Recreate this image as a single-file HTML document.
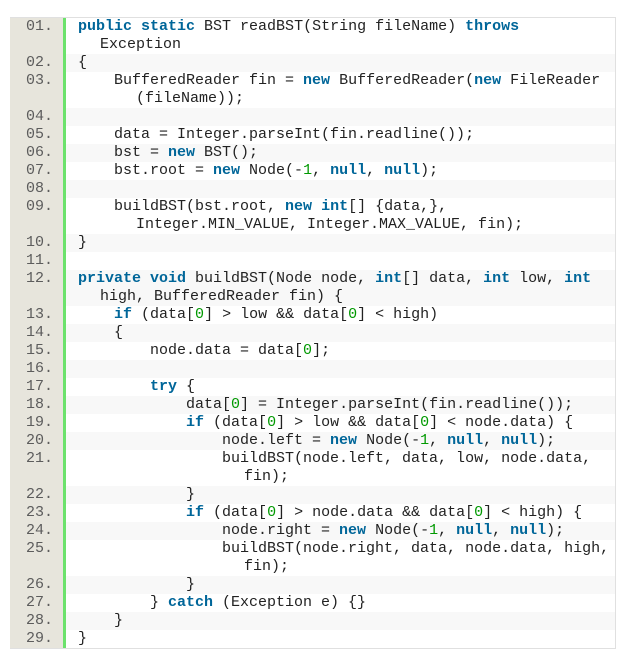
<!DOCTYPE html>
<html><head><meta charset="utf-8"><style>
body{margin:0;background:#fff;width:623px;height:656px;overflow:hidden}
#box{position:absolute;left:10px;top:17px;width:605px;border:1px solid #e0e0e0;border-left:none;background:#fff}
.r{position:relative;font:15px/18px "Liberation Mono",monospace;color:#222;white-space:pre}
.r.g{background:#f8f8f8}
.n{position:absolute;left:0;top:0;bottom:0;width:53px;background:#e7e5dc;color:#5c5c5c;text-align:right;padding-right:0}
.n span{position:absolute;right:10px;top:0}
.bar{position:absolute;left:53px;top:0;bottom:0;width:3px;background:#6ce26c}
.c{padding-left:68px}
.w{padding-left:90px}
.k{color:#006699;font-weight:bold}
.m{color:#009900}
</style></head><body><div id="box">
<div class="r"><div class="n"><span>01.</span></div><div class="bar"></div><div class="c"><span class="k">public</span> <span class="k">static</span> BST readBST(String fileName) <span class="k">throws</span></div><div class="w">Exception</div></div>
<div class="r g"><div class="n"><span>02.</span></div><div class="bar"></div><div class="c">{</div></div>
<div class="r"><div class="n"><span>03.</span></div><div class="bar"></div><div class="c">    BufferedReader fin = <span class="k">new</span> BufferedReader(<span class="k">new</span> FileReader</div><div class="w">    (fileName));</div></div>
<div class="r g"><div class="n"><span>04.</span></div><div class="bar"></div><div class="c"> </div></div>
<div class="r"><div class="n"><span>05.</span></div><div class="bar"></div><div class="c">    data = Integer.parseInt(fin.readline());</div></div>
<div class="r g"><div class="n"><span>06.</span></div><div class="bar"></div><div class="c">    bst = <span class="k">new</span> BST();</div></div>
<div class="r"><div class="n"><span>07.</span></div><div class="bar"></div><div class="c">    bst.root = <span class="k">new</span> Node(-<span class="m">1</span>, <span class="k">null</span>, <span class="k">null</span>);</div></div>
<div class="r g"><div class="n"><span>08.</span></div><div class="bar"></div><div class="c"> </div></div>
<div class="r"><div class="n"><span>09.</span></div><div class="bar"></div><div class="c">    buildBST(bst.root, <span class="k">new</span> <span class="k">int</span>[] {data,},</div><div class="w">    Integer.MIN_VALUE, Integer.MAX_VALUE, fin);</div></div>
<div class="r g"><div class="n"><span>10.</span></div><div class="bar"></div><div class="c">}</div></div>
<div class="r"><div class="n"><span>11.</span></div><div class="bar"></div><div class="c"> </div></div>
<div class="r g"><div class="n"><span>12.</span></div><div class="bar"></div><div class="c"><span class="k">private</span> <span class="k">void</span> buildBST(Node node, <span class="k">int</span>[] data, <span class="k">int</span> low, <span class="k">int</span></div><div class="w">high, BufferedReader fin) {</div></div>
<div class="r"><div class="n"><span>13.</span></div><div class="bar"></div><div class="c">    <span class="k">if</span> (data[<span class="m">0</span>] &gt; low &amp;&amp; data[<span class="m">0</span>] &lt; high)</div></div>
<div class="r g"><div class="n"><span>14.</span></div><div class="bar"></div><div class="c">    {</div></div>
<div class="r"><div class="n"><span>15.</span></div><div class="bar"></div><div class="c">        node.data = data[<span class="m">0</span>];</div></div>
<div class="r g"><div class="n"><span>16.</span></div><div class="bar"></div><div class="c"> </div></div>
<div class="r"><div class="n"><span>17.</span></div><div class="bar"></div><div class="c">        <span class="k">try</span> {</div></div>
<div class="r g"><div class="n"><span>18.</span></div><div class="bar"></div><div class="c">            data[<span class="m">0</span>] = Integer.parseInt(fin.readline());</div></div>
<div class="r"><div class="n"><span>19.</span></div><div class="bar"></div><div class="c">            <span class="k">if</span> (data[<span class="m">0</span>] &gt; low &amp;&amp; data[<span class="m">0</span>] &lt; node.data) {</div></div>
<div class="r g"><div class="n"><span>20.</span></div><div class="bar"></div><div class="c">                node.left = <span class="k">new</span> Node(-<span class="m">1</span>, <span class="k">null</span>, <span class="k">null</span>);</div></div>
<div class="r"><div class="n"><span>21.</span></div><div class="bar"></div><div class="c">                buildBST(node.left, data, low, node.data,</div><div class="w">                fin);</div></div>
<div class="r g"><div class="n"><span>22.</span></div><div class="bar"></div><div class="c">            }</div></div>
<div class="r"><div class="n"><span>23.</span></div><div class="bar"></div><div class="c">            <span class="k">if</span> (data[<span class="m">0</span>] &gt; node.data &amp;&amp; data[<span class="m">0</span>] &lt; high) {</div></div>
<div class="r g"><div class="n"><span>24.</span></div><div class="bar"></div><div class="c">                node.right = <span class="k">new</span> Node(-<span class="m">1</span>, <span class="k">null</span>, <span class="k">null</span>);</div></div>
<div class="r"><div class="n"><span>25.</span></div><div class="bar"></div><div class="c">                buildBST(node.right, data, node.data, high,</div><div class="w">                fin);</div></div>
<div class="r g"><div class="n"><span>26.</span></div><div class="bar"></div><div class="c">            }</div></div>
<div class="r"><div class="n"><span>27.</span></div><div class="bar"></div><div class="c">        } <span class="k">catch</span> (Exception e) {}</div></div>
<div class="r g"><div class="n"><span>28.</span></div><div class="bar"></div><div class="c">    }</div></div>
<div class="r"><div class="n"><span>29.</span></div><div class="bar"></div><div class="c">}</div></div>
</div></body></html>
